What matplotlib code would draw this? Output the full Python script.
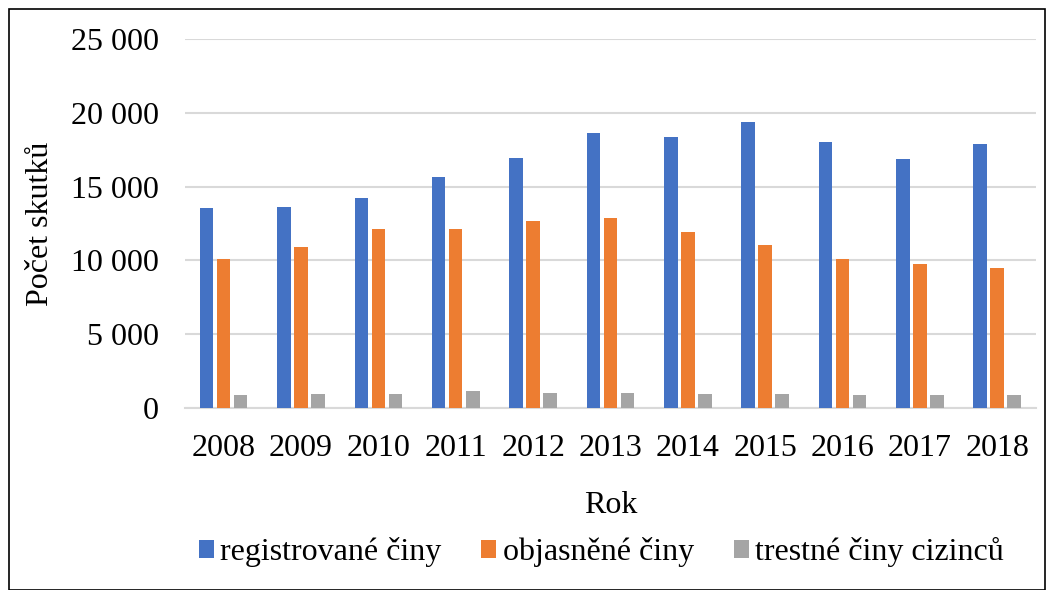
import numpy as np
import matplotlib.pyplot as plt
from matplotlib.patches import Rectangle
from matplotlib.ticker import FuncFormatter

plt.rcParams['font.family'] = ['Liberation Serif', 'DejaVu Serif']

# Data
years = ['2008', '2009', '2010', '2011', '2012', '2013',
         '2014', '2015', '2016', '2017', '2018']
registrovane = [13530, 13640, 14210, 15630, 16920, 18660,
                18350, 19380, 18050, 16850, 17870]
objasnene = [10110, 10920, 12140, 12120, 12650, 12870,
             11900, 11020, 10110, 9750, 9480]
cizinci = [880, 910, 910, 1130, 1020, 980,
           900, 900, 870, 880, 870]

fig = plt.figure(figsize=(10.53, 5.90), dpi=100)
ax = fig.add_axes([0.1757, 0.309, 0.808, 0.6246])

x = np.arange(len(years))
w = 0.175
off = 0.22
ax.bar(x - off, registrovane, w, color='#4472C4', label='registrované činy', zorder=3)
ax.bar(x, objasnene, w, color='#ED7D31', label='objasněné činy', zorder=3)
ax.bar(x + off, cizinci, w, color='#A5A5A5', label='trestné činy cizinců', zorder=3)

ax.set_xlim(-0.5, len(years) - 0.5)
ax.set_ylim(0, 25000)
ax.set_yticks(np.arange(0, 25001, 5000))
ax.yaxis.set_major_formatter(FuncFormatter(lambda v, p: f'{int(v):,}'.replace(',', ' ')))
ax.set_xticks(x)
ax.set_xticklabels(years)
ax.tick_params(axis='both', length=0, labelsize=23, colors='black')
ax.tick_params(axis='y', pad=19)
ax.tick_params(axis='x', pad=19)

ax.grid(axis='y', color='#D9D9D9', linewidth=1.5, zorder=0)
for s in ['top', 'right', 'left']:
    ax.spines[s].set_visible(False)
ax.spines['bottom'].set_color('#D9D9D9')
ax.spines['bottom'].set_linewidth(1.5)

ax.set_ylabel('Počet skutků', fontsize=23, labelpad=11)
ax.set_xlabel('Rok', fontsize=23, labelpad=20)

fig.legend(loc='center', bbox_to_anchor=(0.571, 0.064), ncol=3, frameon=False,
           fontsize=23, handlelength=0.47, handleheight=0.47, handletextpad=0.2,
           columnspacing=1.25, borderpad=0, borderaxespad=0)

# outer frame
fig.patches.append(Rectangle((9 / 1053, 0), 1036 / 1053, 1 - 9 / 590,
                             transform=fig.transFigure, fill=False,
                             edgecolor='black', linewidth=1.2))

fig.savefig('out.png', dpi=100)
